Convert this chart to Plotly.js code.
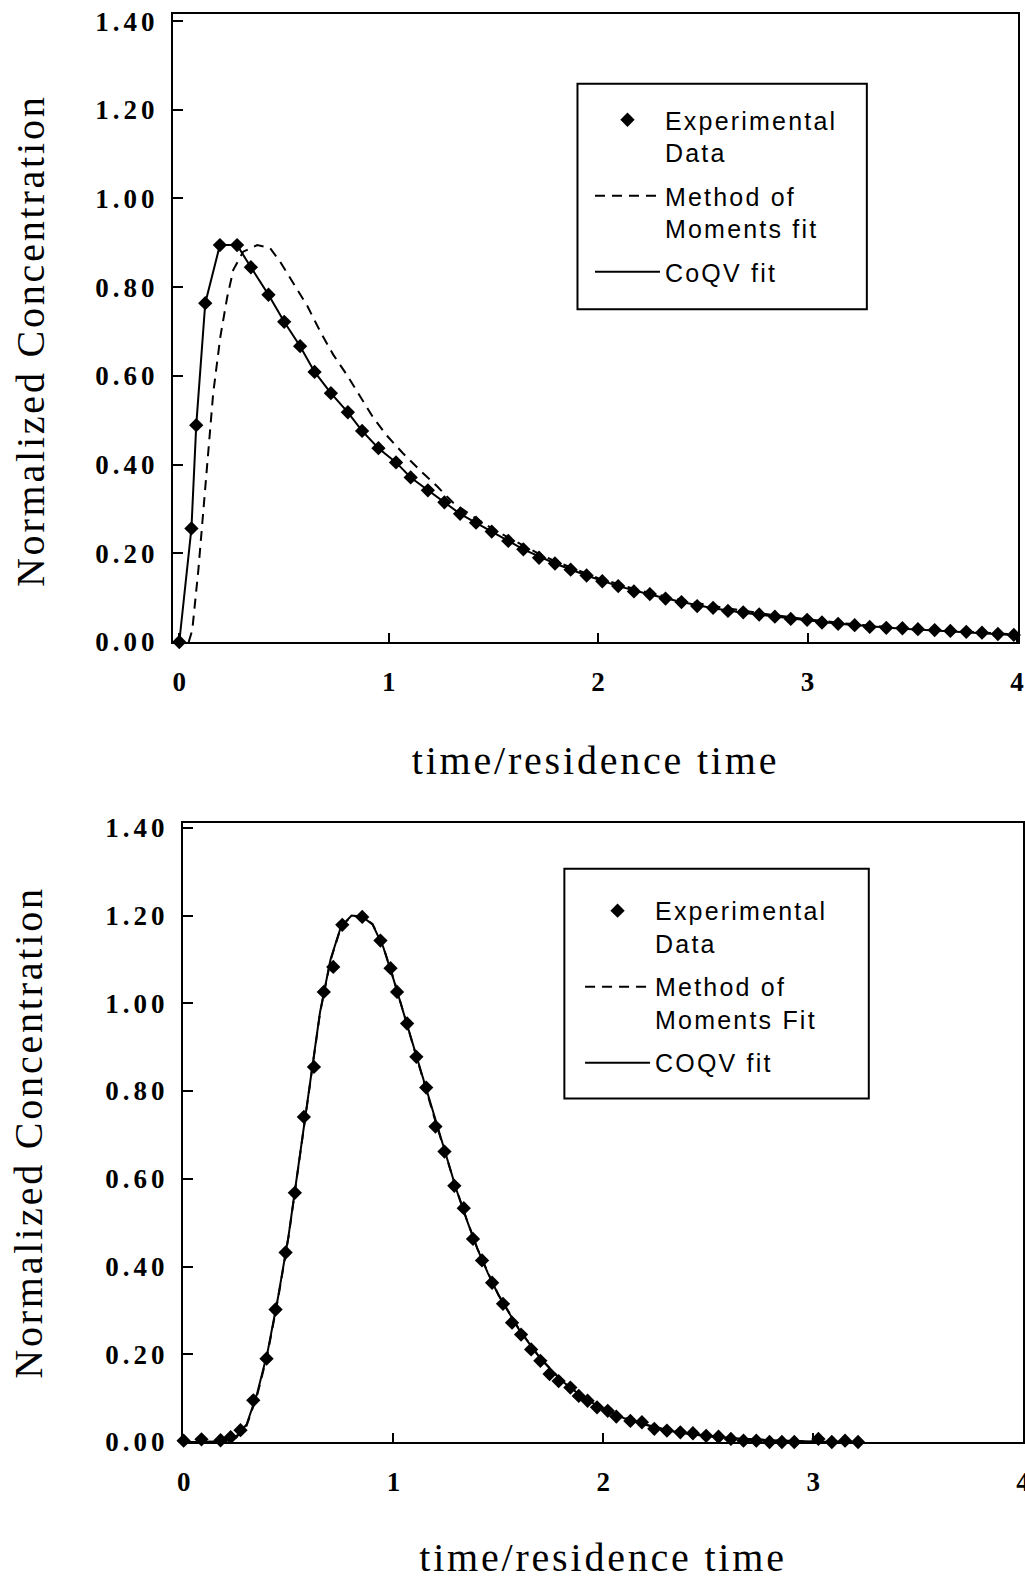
<!DOCTYPE html>
<html><head><meta charset="utf-8">
<script src="https://cdn.plot.ly/plotly-3.0.1.min.js"></script>
<style>
html,body{margin:0;padding:0;background:#fff;}
#chart{width:1025px;height:1580px;}
text.xtitle,text.x2title,text.ytitle,text.y2title{letter-spacing:2.8px;}
.yaxislayer-above text{letter-spacing:4px;}
.legendtext,.legend text.legendtext,.legend2 text.legendtext,.legend2 text{letter-spacing:2.2px !important;}
</style></head><body><div id="chart"></div>
<script>
// ---- Top panel ----
var topExpX = [0, 0.058, 0.081, 0.124, 0.194, 0.276, 0.342, 0.426, 0.501, 0.577, 0.646, 0.724, 0.805, 0.873, 0.951, 1.035, 1.105, 1.187, 1.266, 1.341, 1.417, 1.492, 1.571, 1.643, 1.718, 1.794, 1.869, 1.945, 2.020, 2.096, 2.171, 2.247, 2.322, 2.398, 2.473, 2.549, 2.620, 2.693, 2.769, 2.844, 2.920, 2.998, 3.069, 3.146, 3.225, 3.297, 3.376, 3.453, 3.527, 3.607, 3.682, 3.758, 3.833, 3.909, 3.985];
var topExpY = [0, 0.256, 0.489, 0.764, 0.895, 0.895, 0.845, 0.783, 0.722, 0.667, 0.609, 0.561, 0.518, 0.476, 0.437, 0.405, 0.371, 0.342, 0.315, 0.289, 0.269, 0.249, 0.228, 0.209, 0.190, 0.177, 0.163, 0.150, 0.137, 0.126, 0.114, 0.108, 0.098, 0.090, 0.081, 0.077, 0.070, 0.067, 0.062, 0.057, 0.052, 0.050, 0.044, 0.041, 0.038, 0.034, 0.032, 0.031, 0.029, 0.027, 0.025, 0.023, 0.021, 0.018, 0.016];

var topCoqvX = [0, 0.058, 0.081, 0.124, 0.194, 0.276, 0.342, 0.426, 0.501, 0.577, 0.646, 0.724, 0.805, 0.873, 0.951, 1.035, 1.105, 1.187, 1.266, 1.341, 1.492, 1.643, 1.794, 1.945, 2.096, 2.247, 2.398, 2.549, 2.693, 2.844, 2.998, 3.146, 3.297, 3.453, 3.607, 3.758, 3.909, 4.0];
var topCoqvY = [0, 0.256, 0.489, 0.764, 0.895, 0.895, 0.845, 0.783, 0.722, 0.667, 0.609, 0.561, 0.518, 0.476, 0.437, 0.405, 0.371, 0.342, 0.315, 0.289, 0.249, 0.209, 0.177, 0.150, 0.126, 0.107, 0.090, 0.076, 0.066, 0.057, 0.049, 0.041, 0.035, 0.030, 0.026, 0.022, 0.018, 0.015];

var topMomX = [0.045, 0.062, 0.091, 0.115, 0.138, 0.162, 0.196, 0.229, 0.258, 0.305, 0.372, 0.434, 0.482, 0.544, 0.611, 0.673, 0.735, 0.802, 0.864, 0.926, 0.992, 1.069, 1.150, 1.231, 1.308, 1.40, 1.50, 1.60, 1.70, 1.80, 2.00, 2.20, 2.40, 2.60, 2.80, 3.00, 3.20, 3.40, 3.60, 3.80, 4.00];
var topMomY = [0, 0.027, 0.162, 0.298, 0.426, 0.561, 0.688, 0.778, 0.839, 0.880, 0.895, 0.888, 0.857, 0.809, 0.758, 0.700, 0.648, 0.601, 0.552, 0.506, 0.465, 0.425, 0.387, 0.351, 0.314, 0.284, 0.254, 0.228, 0.203, 0.181, 0.144, 0.116, 0.094, 0.077, 0.063, 0.051, 0.041, 0.033, 0.027, 0.022, 0.017];

// ---- Bottom panel ----
var botExpX = [0, 0.085, 0.176, 0.224, 0.271, 0.332, 0.395, 0.438, 0.486, 0.530, 0.573, 0.621, 0.668, 0.713, 0.756, 0.851, 0.938, 0.986, 1.017, 1.065, 1.109, 1.156, 1.200, 1.243, 1.290, 1.335, 1.379, 1.422, 1.470, 1.522, 1.565, 1.608, 1.656, 1.700, 1.744, 1.787, 1.843, 1.883, 1.925, 1.970, 2.021, 2.062, 2.129, 2.184, 2.243, 2.303, 2.367, 2.427, 2.490, 2.549, 2.608, 2.668, 2.729, 2.792, 2.851, 2.910, 3.025, 3.089, 3.152, 3.214];
var botExpY = [0.003, 0.006, 0.004, 0.011, 0.027, 0.095, 0.190, 0.302, 0.432, 0.568, 0.741, 0.855, 1.026, 1.083, 1.179, 1.197, 1.143, 1.080, 1.026, 0.954, 0.878, 0.808, 0.719, 0.662, 0.584, 0.533, 0.463, 0.414, 0.363, 0.315, 0.272, 0.245, 0.211, 0.185, 0.155, 0.139, 0.124, 0.105, 0.094, 0.079, 0.071, 0.058, 0.048, 0.045, 0.030, 0.026, 0.022, 0.020, 0.014, 0.012, 0.007, 0.003, 0.003, 0.000, 0.000, 0.000, 0.007, 0.000, 0.003, 0.000];

var botCoqvX = [0, 0.10, 0.20, 0.25, 0.30, 0.35, 0.40, 0.45, 0.50, 0.55, 0.60, 0.65, 0.70, 0.75, 0.80, 0.85, 0.90, 0.95, 1.00, 1.05, 1.10, 1.15, 1.20, 1.25, 1.30, 1.35, 1.40, 1.45, 1.50, 1.60, 1.70, 1.80, 1.90, 2.00, 2.10, 2.20, 2.30, 2.40, 2.50, 2.60, 2.80, 3.00, 3.24];
var botCoqvY = [0, 0, 0.003, 0.012, 0.040, 0.110, 0.205, 0.330, 0.470, 0.640, 0.820, 0.980, 1.100, 1.175, 1.200, 1.198, 1.180, 1.130, 1.055, 0.975, 0.895, 0.810, 0.730, 0.650, 0.575, 0.505, 0.440, 0.385, 0.335, 0.255, 0.190, 0.140, 0.103, 0.075, 0.054, 0.039, 0.027, 0.019, 0.013, 0.009, 0.004, 0.001, 0];

var botMomX = [0, 0.10, 0.20, 0.25, 0.30, 0.35, 0.40, 0.45, 0.50, 0.55, 0.60, 0.65, 0.70, 0.75, 0.80, 0.85, 0.90, 0.95, 1.00, 1.05, 1.10, 1.15, 1.20, 1.25, 1.30, 1.35, 1.40, 1.45, 1.50, 1.60, 1.70, 1.80, 1.90, 2.00, 2.10, 2.20, 2.30, 2.40, 2.50, 2.60, 2.80, 3.00, 3.24];
var botMomY = [0, 0, 0.002, 0.010, 0.037, 0.106, 0.201, 0.327, 0.468, 0.638, 0.818, 0.978, 1.098, 1.174, 1.199, 1.198, 1.181, 1.131, 1.057, 0.977, 0.897, 0.812, 0.731, 0.651, 0.576, 0.506, 0.441, 0.386, 0.336, 0.256, 0.191, 0.141, 0.104, 0.076, 0.055, 0.040, 0.028, 0.020, 0.014, 0.009, 0.004, 0.001, 0];

// ---- Labels ----
var xTickVals = [0, 1, 2, 3, 4];
var xTickText = ['0', '1', '2', '3', '4'];
var yTickVals = [0, 0.2, 0.4, 0.6, 0.8, 1.0, 1.2, 1.4];
var yTickText = ['0.00', '0.20', '0.40', '0.60', '0.80', '1.00', '1.20', '1.40'];
var xTitle = 'time/residence time';
var yTitle = 'Normalized Concentration';
var topNames = ['Experimental<br>Data', 'Method of<br>Moments fit', 'CoQV fit'];
var botNames = ['Experimental<br>Data', 'Method of<br>Moments Fit', 'COQV fit'];

var markerStyle = {symbol: 'diamond', size: 11, color: '#000'};
var dashStyle = {color: '#000', width: 2, dash: '10px,7px'};
var solidStyle = {color: '#000', width: 2};

var data = [
  {x: topMomX, y: topMomY, name: topNames[1], mode: 'lines', line: dashStyle, xaxis: 'x', yaxis: 'y', legend: 'legend', legendrank: 2, legendgroup: 't2', cliponaxis: false},
  {x: topCoqvX, y: topCoqvY, name: topNames[2], mode: 'lines', line: solidStyle, xaxis: 'x', yaxis: 'y', legend: 'legend', legendrank: 3, legendgroup: 't3', cliponaxis: false},
  {x: topExpX, y: topExpY, name: topNames[0], mode: 'markers', marker: markerStyle, xaxis: 'x', yaxis: 'y', legend: 'legend', legendrank: 1, legendgroup: 't1', cliponaxis: false},
  {x: botMomX, y: botMomY, name: botNames[1], mode: 'lines', line: dashStyle, xaxis: 'x2', yaxis: 'y2', legend: 'legend2', legendrank: 2, legendgroup: 'b2', cliponaxis: false},
  {x: botCoqvX, y: botCoqvY, name: botNames[2], mode: 'lines', line: solidStyle, xaxis: 'x2', yaxis: 'y2', legend: 'legend2', legendrank: 3, legendgroup: 'b3', cliponaxis: false},
  {x: botExpX, y: botExpY, name: botNames[0], mode: 'markers', marker: markerStyle, xaxis: 'x2', yaxis: 'y2', legend: 'legend2', legendrank: 1, legendgroup: 'b1', cliponaxis: false}
];

var tickFont = {family: 'Liberation Serif', size: 27, color: '#000', weight: 'bold'};
var titleFont = {family: 'Liberation Serif', size: 40, color: '#000'};

function xAxis(dom, rng, anchor) {
  return {domain: dom, range: rng, anchor: anchor, tickmode: 'array', tickvals: xTickVals, ticktext: xTickText,
    ticks: 'inside', ticklen: 9, tickwidth: 2, tickcolor: '#000', showline: true, mirror: true, linewidth: 2, linecolor: '#000',
    showgrid: false, zeroline: false, tickfont: tickFont, ticklabelstandoff: 15, ticklabeloverflow: 'allow', automargin: false,
    title: {text: xTitle, font: titleFont, standoff: 50}};
}
function yAxis(dom, rng, anchor, titleText, standoff) {
  return {domain: dom, range: rng, anchor: anchor, tickmode: 'array', tickvals: yTickVals, ticktext: yTickText,
    ticks: 'inside', ticklen: 10, tickwidth: 2, tickcolor: '#000', showline: true, mirror: true, linewidth: 2, linecolor: '#000',
    showgrid: false, zeroline: false, tickfont: tickFont, ticklabelstandoff: 7, automargin: false,
    title: {text: titleText, font: titleFont, standoff: standoff}};
}
function legendBox(x, y) {
  return {x: x, y: y, xanchor: 'left', yanchor: 'top', bgcolor: 'rgba(0,0,0,0)', borderwidth: 0,
    font: {family: 'Liberation Sans', size: 25, color: '#000'}, valign: 'top', itemwidth: 65, tracegroupgap: 8,
    traceorder: 'grouped'};
}
function frame(x0, x1, y0, y1) {
  return {type: 'rect', xref: 'paper', yref: 'paper', x0: x0, x1: x1, y0: y0, y1: y1,
    line: {color: '#000', width: 2}, fillcolor: '#fff', layer: 'above'};
}

var layout = {
  width: 1025, height: 1580, margin: {l: 0, r: 0, t: 0, b: 0},
  paper_bgcolor: '#fff', plot_bgcolor: '#fff', showlegend: true,
  xaxis: xAxis([0.16878, 0.99317], [-0.03, 4.005], 'y'),
  yaxis: yAxis([0.59367, 0.99114], [0, 1.416], 'x', yTitle + '&nbsp;&nbsp;', 54),
  xaxis2: xAxis([0.17854, 0.99805], [-0.003, 4.0], 'y2'),
  yaxis2: yAxis([0.08734, 0.47911], [0, 1.411], 'x2', yTitle, 66),
  legend: legendBox(0.5756, 0.9386),
  legend2: legendBox(0.5659, 0.4380),
  shapes: [frame(0.5634, 0.8457, 0.8042, 0.9470), frame(0.5506, 0.8476, 0.3047, 0.4501)]
};

Plotly.newPlot('chart', data, layout, {staticPlot: true});
</script></body></html>
